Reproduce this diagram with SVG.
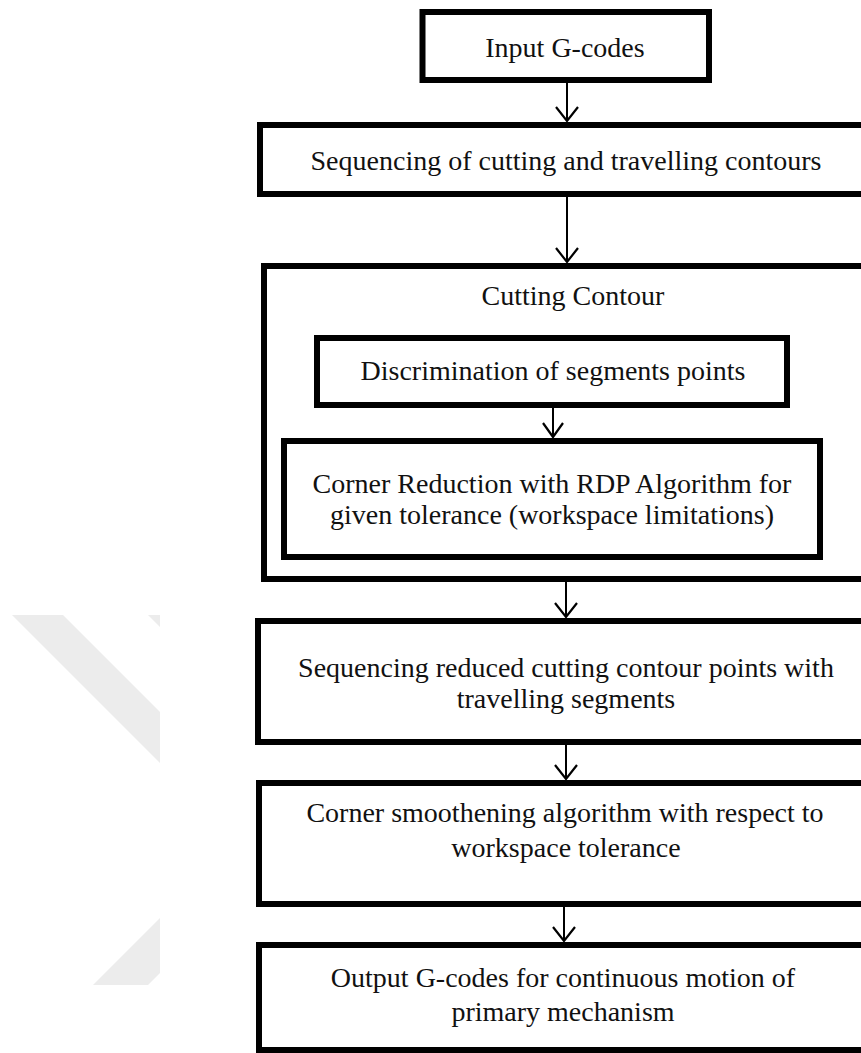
<svg xmlns="http://www.w3.org/2000/svg" width="861" height="1053" viewBox="0 0 861 1053">
  <style>
    .box { fill: #ffffff; stroke: #000000; stroke-width: 6; }
    .lbl { font-family: "Liberation Serif", "Times New Roman", serif; font-size: 28px; fill: #111111; text-anchor: middle; }
    .shaft { stroke: #000000; stroke-width: 2; fill: none; }
    .head { stroke: #000000; stroke-width: 2.2; fill: none; stroke-linejoin: miter; }
    .mark { fill: #ececec; }
  </style>
  <rect width="861" height="1053" fill="#ffffff"/>

  <!-- faint background emblem on the left -->
  <g id="emblem">
    <polygon class="mark" points="12,615 63,615 160,712 160,763"/>
    <polygon class="mark" points="148,615 160,615 160,627"/>
    <polygon class="mark" points="160,918 93,985 148,985 160,973"/>
  </g>

  <g id="input-gcodes">
    <rect class="box" x="422.5" y="12" width="286.5" height="68"/>
    <text class="lbl" x="565" y="57">Input G-codes</text>
  </g>

  <g id="sequencing-contours">
    <rect class="box" x="260" y="125" width="640" height="69"/>
    <text class="lbl" x="566" y="170">Sequencing of cutting and travelling contours</text>
  </g>

  <g id="cutting-contour">
    <rect class="box" x="264" y="266" width="640" height="313"/>
    <text class="lbl" x="573" y="305">Cutting Contour</text>
  </g>

  <g id="discrimination">
    <rect class="box" x="317" y="338" width="470" height="67"/>
    <text class="lbl" x="553" y="380">Discrimination of segments points</text>
  </g>

  <g id="corner-reduction">
    <rect class="box" x="284" y="441" width="536" height="116"/>
    <text class="lbl" x="552" y="493">Corner Reduction with RDP Algorithm for</text>
    <text class="lbl" x="552" y="524">given tolerance (workspace limitations)</text>
  </g>

  <g id="sequencing-reduced">
    <rect class="box" x="258" y="621" width="640" height="121"/>
    <text class="lbl" x="566" y="677">Sequencing reduced cutting contour points with</text>
    <text class="lbl" x="566" y="708">travelling segments</text>
  </g>

  <g id="corner-smoothening">
    <rect class="box" x="259" y="783" width="640" height="121"/>
    <text class="lbl" x="565" y="822">Corner smoothening algorithm with respect to</text>
    <text class="lbl" x="566" y="857">workspace tolerance</text>
  </g>

  <g id="output-gcodes">
    <rect class="box" x="259" y="945" width="640" height="105"/>
    <text class="lbl" x="563" y="987">Output G-codes for continuous motion of</text>
    <text class="lbl" x="563" y="1021">primary mechanism</text>
  </g>

  <g id="connectors">
    <line class="shaft" x1="567" y1="83" x2="567" y2="121"/>
    <polyline class="head" points="556,107 567,121 578,107"/>

    <line class="shaft" x1="567" y1="197" x2="567" y2="262"/>
    <polyline class="head" points="556,248 567,262 578,248"/>

    <line class="shaft" x1="553" y1="408" x2="553" y2="437"/>
    <polyline class="head" points="543,423 553,437 563,423"/>

    <line class="shaft" x1="566" y1="582" x2="566" y2="617"/>
    <polyline class="head" points="555,603 566,617 577,603"/>

    <line class="shaft" x1="566" y1="745" x2="566" y2="779"/>
    <polyline class="head" points="555,765 566,779 577,765"/>

    <line class="shaft" x1="564" y1="907" x2="564" y2="941"/>
    <polyline class="head" points="553,927 564,941 575,927"/>
  </g>
</svg>
